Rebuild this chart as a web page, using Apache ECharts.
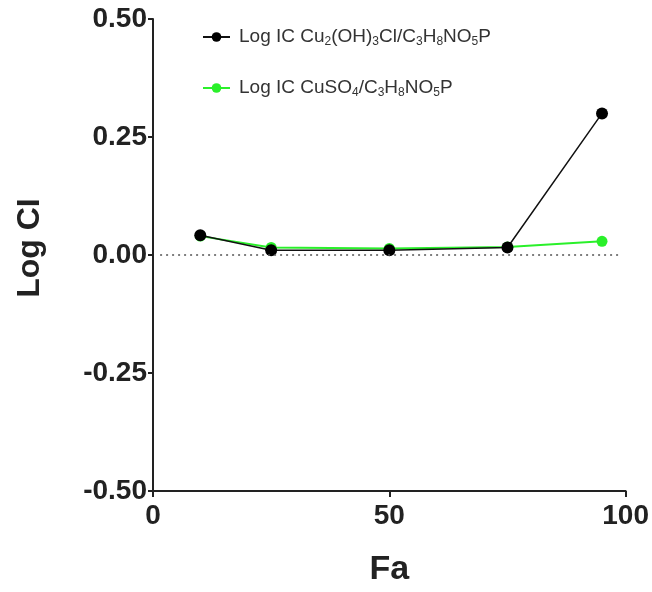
<!DOCTYPE html>
<html><head><meta charset="utf-8">
<script src="https://cdn.jsdelivr.net/npm/echarts@6/dist/echarts.min.js"></script>
<style>html,body{margin:0;padding:0;background:#fff}#c{width:652px;height:592px}</style>
</head><body><div id="c"></div>
<script>
const fa = [10, 25, 50, 75, 95];
const logCI_CuOHCl = [0.042, 0.010, 0.010, 0.016, 0.300];
const logCI_CuSO4 = [0.040, 0.016, 0.014, 0.017, 0.029];
const yTicks = [-0.5, -0.25, 0, 0.25, 0.5];
const xTicks = [0, 50, 100];
const zeroLineRange = [1.5, 99];

const name1 = 'Log IC Cu2(OH)3Cl/C3H8NO5P';
const name2 = 'Log IC CuSO4/C3H8NO5P';
function legendFmt(name) {
  if (name === name1) return '{g|}{n|Log IC Cu}{s|2}{n|(OH)}{s|3}{n|Cl/C}{s|3}{n|H}{s|8}{n|NO}{s|5}{n|P}';
  return '{g|}{n|Log IC CuSO}{s|4}{n|/C}{s|3}{n|H}{s|8}{n|NO}{s|5}{n|P}';
}
const chart = echarts.init(document.getElementById('c'), null, {renderer: 'canvas'});
const axisCol = '#222';
const font = 'Liberation Sans';
chart.setOption({
  animation: false,
  backgroundColor: '#fff',
  grid: {left: 153, right: 26, top: 19, bottom: 100},
  legend: {
    orient: 'vertical', left: 197, top: 21, itemGap: 29,
    itemWidth: 27, itemHeight: 12,
    data: [name1, name2],
    formatter: legendFmt,
    textStyle: {
      rich: {
        g: {width: 4},
        n: {fontFamily: font, fontSize: 19, color: '#333', lineHeight: 24},
        s: {fontFamily: font, fontSize: 12, color: '#333', padding: [10, 0, 0, 0], lineHeight: 24}
      }
    }
  },
  xAxis: {
    type: 'value', min: 0, max: 100, interval: 50,
    name: 'Fa', nameLocation: 'middle', nameGap: 62,
    nameTextStyle: {fontFamily: font, fontWeight: 'bold', fontSize: 34, color: '#222'},
    axisLine: {show: true, onZero: false, lineStyle: {color: axisCol, width: 2}},
    axisTick: {show: true, length: 6, lineStyle: {color: axisCol, width: 2}},
    axisLabel: {fontFamily: font, fontWeight: 'bold', fontSize: 28, color: '#222', margin: 11},
    splitLine: {show: false}
  },
  yAxis: {
    type: 'value', min: -0.5, max: 0.5, interval: 0.25,
    name: 'Log CI', nameLocation: 'middle', nameGap: 107,
    nameTextStyle: {fontFamily: font, fontWeight: 'bold', fontSize: 32, color: '#222', padding: [0, 0, 0, 14]},
    axisLine: {show: true, onZero: false, lineStyle: {color: axisCol, width: 2}},
    axisTick: {show: true, length: 5, lineStyle: {color: axisCol, width: 2}},
    axisLabel: {fontFamily: font, fontWeight: 'bold', fontSize: 28, color: '#222', margin: 6,
      formatter: v => v.toFixed(2)},
    splitLine: {show: false}
  },
  series: [
    {
      name: name2, type: 'line', z: 2,
      data: fa.map((x, i) => [x, logCI_CuSO4[i]]),
      symbol: 'circle', symbolSize: 11,
      itemStyle: {color: '#2af02a'},
      lineStyle: {color: '#2af02a', width: 2},
      markLine: {
        silent: true, symbol: 'none', label: {show: false},
        lineStyle: {type: [2, 4], color: '#555', width: 1.5},
        data: [[{coord: [zeroLineRange[0], 0]}, {coord: [zeroLineRange[1], 0]}]]
      }
    },
    {
      name: name1, type: 'line', z: 3,
      data: fa.map((x, i) => [x, logCI_CuOHCl[i]]),
      symbol: 'circle', symbolSize: 12,
      itemStyle: {color: '#000'},
      lineStyle: {color: '#111', width: 1.5}
    }
  ]
});
</script></body></html>
